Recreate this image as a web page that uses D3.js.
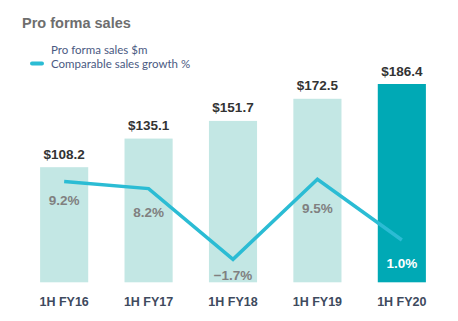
<!DOCTYPE html>
<html>
<head>
  <meta charset="UTF-8">
  <title>Pro forma sales</title>
  <script src="https://d3js.org/d3.v7.min.js"></script>
  <style>
    body { margin: 0; background: #fff; }
    text { font-family: "Liberation Sans", Arial, sans-serif; font-weight: bold; }
  </style>
</head>
<body>
<script>
  // half-year sales and comparable growth
  var periods = ["1H FY16", "1H FY17", "1H FY18", "1H FY19", "1H FY20"];
  var sales = [108.2, 135.1, 151.7, 172.5, 186.4];
  var growth = [9.2, 8.2, -1.7, 9.5, 1.0];

  var W = 458, H = 321;

  var svg = d3.select("body").append("svg")
    .attr("width", W)
    .attr("height", H);

  var x = d3.scaleBand().domain(periods).range([19, 447]).paddingInner(0.43).paddingOuter(0.25);
  var y = d3.scaleLinear().domain([0, 186.4]).range([282.3, 84]);
  var yg = d3.scaleLinear().domain([-1.7, 9.5]).range([259.3, 179.3]);

  // title
  svg.append("text")
    .attr("x", 22).attr("y", 27.5)
    .attr("fill", "#6e6e6e")
    .style("font-size", "14.5px")
    .text("Pro forma sales");

  // legend
  var legend = svg.append("g");
  legend.append("text")
    .attr("x", 51).attr("y", 54)
    .attr("fill", "#4a5a82")
    .style("font-family", "Lato, sans-serif").style("font-weight", "normal").style("font-size", "11.5px")
    .text("Pro forma sales $m");
  legend.append("line")
    .attr("x1", 32).attr("x2", 42).attr("y1", 63.5).attr("y2", 63.5)
    .attr("stroke", "#2bbcd4").attr("stroke-width", 4).attr("stroke-linecap", "round");
  legend.append("text")
    .attr("x", 51).attr("y", 67.5)
    .attr("fill", "#4a5a82")
    .style("font-family", "Lato, sans-serif").style("font-weight", "normal").style("font-size", "11.5px")
    .text("Comparable sales growth %");

  // bars
  svg.selectAll("rect.bar")
    .data(sales)
    .enter().append("rect")
    .attr("class", "bar")
    .attr("x", function (d, i) { return x(periods[i]); })
    .attr("width", x.bandwidth())
    .attr("y", function (d) { return y(d); })
    .attr("height", function (d) { return y(0) - y(d); })
    .attr("fill", function (d, i) { return i === periods.length - 1 ? "#00a9b5" : "#c3e7e4"; });

  // value labels above bars
  svg.selectAll("text.val")
    .data(sales)
    .enter().append("text")
    .attr("class", "val")
    .attr("x", function (d, i) { return x(periods[i]) + x.bandwidth() / 2; })
    .attr("y", function (d) { return y(d) - 8.5; })
    .attr("text-anchor", "middle")
    .attr("fill", "#333")
    .style("font-size", "13.5px")
    .text(function (d) { return "$" + d.toFixed(1); });

  // growth line
  var line = d3.line()
    .x(function (d, i) { return x(periods[i]) + x.bandwidth() / 2; })
    .y(function (d) { return yg(d); });

  svg.append("path")
    .datum(growth)
    .attr("d", line)
    .attr("fill", "none")
    .attr("stroke", "#2bbcd4")
    .attr("stroke-width", 3.5)
    .attr("stroke-linejoin", "miter");

  // growth labels
  var gOffset = [19, 24, 0, 29, 0];
  svg.selectAll("text.pct")
    .data(growth)
    .enter().append("text")
    .attr("class", "pct")
    .attr("x", function (d, i) { return x(periods[i]) + x.bandwidth() / 2; })
    .attr("y", function (d, i) { return i === 2 ? 280 : (i === 4 ? 267.5 : yg(d) + gOffset[i] + 4.5); })
    .attr("text-anchor", "middle")
    .attr("fill", function (d, i) { return i === 4 ? "#fff" : "#808080"; })
    .style("font-size", "13.5px")
    .text(function (d) { return (d < 0 ? "\u2212" : "") + Math.abs(d).toFixed(1) + "%"; });

  // category axis labels
  svg.selectAll("text.cat")
    .data(periods)
    .enter().append("text")
    .attr("class", "cat")
    .attr("x", function (d) { return x(d) + x.bandwidth() / 2; })
    .attr("y", 305.5)
    .attr("text-anchor", "middle")
    .attr("fill", "#3e4a5e")
    .style("font-size", "12.5px")
    .text(function (d) { return d; });
</script>
</body>
</html>
